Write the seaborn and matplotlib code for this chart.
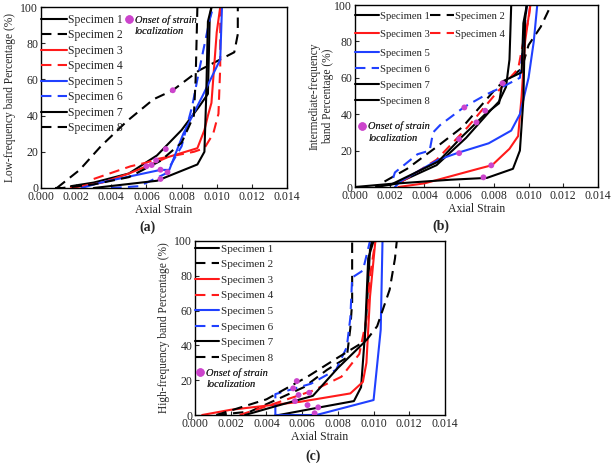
import matplotlib
matplotlib.use("Agg")
import matplotlib.pyplot as plt
import seaborn as sns
from matplotlib.lines import Line2D
from matplotlib.ticker import FormatStrFormatter

# ---- data ----
SPECIMENS = ["Specimen 1", "Specimen 2", "Specimen 3", "Specimen 4",
             "Specimen 5", "Specimen 6", "Specimen 7", "Specimen 8"]

# (a) low-frequency band
low_strain = {
    1: [0.0017, 0.0030, 0.0050, 0.0066, 0.0080, 0.0090, 0.0095, 0.0096, 0.0097],
    2: [0.0009, 0.0022, 0.0034, 0.0049, 0.0064, 0.0075, 0.0090, 0.0110, 0.0112, 0.0112],
    3: [0.0017, 0.0035, 0.0050, 0.0065, 0.0072, 0.0089, 0.0093, 0.0095, 0.0097, 0.0100, 0.0102],
    4: [0.0030, 0.0051, 0.0060, 0.0066, 0.0087, 0.0093, 0.0098, 0.0101, 0.0102, 0.0102],
    5: [0.0023, 0.0034, 0.0068, 0.0073, 0.0081, 0.0092, 0.0102, 0.0103],
    6: [0.0040, 0.0056, 0.0071, 0.0080, 0.0086, 0.0090, 0.0096, 0.0098],
    7: [0.0030, 0.0066, 0.0089, 0.0093, 0.0094, 0.0095, 0.0097],
    8: [0.0008, 0.0012, 0.0030, 0.0050, 0.0068, 0.0080, 0.0087, 0.0088, 0.0089],
}
low_pct = {
    1: [1, 3, 8, 18, 32, 45, 52, 93, 100],
    2: [0, 10, 23, 37, 49, 54, 65, 75, 85, 100],
    3: [0, 3, 8, 14, 17, 22, 32, 40, 47, 86, 100],
    4: [5, 12, 14, 16, 20, 22, 30, 41, 67, 100],
    5: [0, 3, 10, 10, 30, 51, 71, 100],
    6: [0, 1, 8, 23, 45, 65, 93, 100],
    7: [0, 4, 13, 20, 50, 92, 100],
    8: [0, 0, 2, 6, 15, 25, 40, 60, 100],
}
low_onset_strain = [0.0075, 0.0071, 0.00655, 0.0063, 0.0060, 0.0068, 0.0072, 0.0068]
low_onset_pct = [54, 21.5, 15.3, 12.7, 12, 10.1, 8.7, 5]

# (b) intermediate-frequency band
mid_strain = {
    1: [0.0000, 0.0024, 0.0047, 0.0064, 0.0078, 0.0083, 0.0087, 0.0089, 0.0090],
    2: [0.0017, 0.0030, 0.0047, 0.0062, 0.0082, 0.0096, 0.0100, 0.0107, 0.0113],
    3: [0.0025, 0.0040, 0.0071, 0.0079, 0.0089, 0.0094, 0.0096, 0.0098, 0.0101],
    4: [0.0027, 0.0047, 0.0065, 0.0080, 0.0094, 0.0097, 0.0100, 0.0101],
    5: [0.0023, 0.0026, 0.0048, 0.0060, 0.0077, 0.0090, 0.0095, 0.0100, 0.0103, 0.0105],
    6: [0.0022, 0.0023, 0.0036, 0.0043, 0.0045, 0.0049, 0.0063, 0.0076, 0.0085, 0.0095, 0.0097, 0.0099],
    7: [0.0012, 0.0025, 0.0055, 0.0076, 0.0091, 0.0095, 0.0097, 0.0098, 0.0099],
    8: [0.0020, 0.0048, 0.0062, 0.0075, 0.0083, 0.0085, 0.0096, 0.0097, 0.0099],
}
mid_pct = {
    1: [0, 2, 12, 27, 42, 47, 55, 70, 100],
    2: [3, 10, 22, 33, 55, 65, 78, 88, 100],
    3: [0, 2, 10, 12, 21, 28, 50, 80, 100],
    4: [3, 15, 33, 50, 65, 80, 92, 100],
    5: [0, 3, 15, 19, 24, 31, 40, 60, 80, 100],
    6: [5, 8, 18, 20, 30, 34, 44, 51, 55, 60, 80, 100],
    7: [0, 2, 4, 5, 10, 20, 48, 92, 100],
    8: [1, 14, 28, 40, 46, 58, 63, 90, 100],
}
mid_onset_strain = [0.0074, 0.00785, 0.0060, 0.0060, 0.0070, 0.0075, 0.0063, 0.0085]
mid_onset_pct = [5.3, 11.9, 18.6, 26.3, 35.5, 41.9, 43.7, 57]

# (c) high-frequency band
high_strain = {
    1: [0.0047, 0.0072, 0.0089, 0.0093, 0.0096, 0.0098, 0.0099],
    2: [0.0012, 0.0031, 0.0061, 0.0074, 0.0085, 0.0087, 0.0088, 0.0088],
    3: [0.0004, 0.0020, 0.0059, 0.0087, 0.0094, 0.0096, 0.0098, 0.0101],
    4: [0.0025, 0.0040, 0.0066, 0.0082, 0.0092, 0.0096, 0.0098, 0.0101],
    5: [0.0045, 0.0068, 0.0100, 0.0104, 0.0105],
    6: [0.0045, 0.0045, 0.0065, 0.0072, 0.0079, 0.0085, 0.0087, 0.0088, 0.0094, 0.0098],
    7: [0.0028, 0.0045, 0.0066, 0.0080, 0.0095, 0.0097, 0.0100],
    8: [0.0012, 0.0040, 0.0063, 0.0080, 0.0096, 0.0102, 0.0109, 0.0112, 0.0113],
}
high_pct = {
    1: [0, 4.8, 8, 16, 58, 95, 100],
    2: [0, 2, 16, 26, 33, 50, 65, 100],
    3: [0, 3, 7.6, 12.4, 19, 30, 68, 100],
    4: [0, 5, 14, 22, 35, 55, 80, 100],
    5: [0, 0, 8.6, 49, 100],
    6: [0, 12, 18, 22, 26, 39, 56, 79, 83, 100],
    7: [0, 5, 11, 27, 42, 90, 100],
    8: [0, 9, 22, 33, 43, 51, 72, 90, 100],
}
high_onset_strain = [0.0057, 0.0055, 0.0058, 0.0056, 0.0064, 0.0063, 0.0069, 0.0067]
high_onset_pct = [19.5, 15.3, 11.5, 8, 12.8, 5.7, 4.4, 1]

# ---- styling ----
sns.set_style("ticks")
plt.rcParams["font.family"] = ["Liberation Serif", "DejaVu Serif"]

BLACK, RED, BLUE = "#000000", "#ff1a1a", "#2040ff"
DOT = "#cc44cc"
DASH = (0, (5, 3))
colors_ac = [BLACK, BLACK, RED, RED, BLUE, BLUE, BLACK, BLACK]
dashed_ac = [False, True, False, True, False, True, False, True]
colors_b = [BLACK, BLACK, RED, RED, BLUE, BLUE, BLACK, BLACK]
dashed_b = [False, True, False, True, False, True, False, False]
FS = 8.5
LW = 1.5


def draw_panel(ax, strain, pct, colors, dashed, on_x, on_y, ylabel, ylabelpad=3):
    handles = []
    for i in range(8):
        ls = DASH if dashed[i] else "-"
        sns.lineplot(x=strain[i + 1], y=pct[i + 1], sort=False, estimator=None,
                     color=colors[i], linestyle=ls, linewidth=LW, ax=ax)
        handles.append(Line2D([], [], color=colors[i], linestyle=ls, linewidth=LW))
    sns.scatterplot(x=on_x, y=on_y, color=DOT, s=18, edgecolor="none", ax=ax, zorder=5)
    ax.set_xlim(0, 0.014)
    ax.set_ylim(0, 100)
    ax.set_xticks([0.000, 0.002, 0.004, 0.006, 0.008, 0.010, 0.012, 0.014])
    ax.set_yticks([0, 20, 40, 60, 80, 100])
    ax.xaxis.set_major_formatter(FormatStrFormatter("%.3f"))
    ax.tick_params(direction="in", length=3, width=0.8, labelsize=FS, pad=2)
    for s in ax.spines.values():
        s.set_linewidth(1.0)
        s.set_color("black")
    ax.set_xlabel("Axial Strain", fontsize=FS, labelpad=1)
    ax.set_ylabel(ylabel, fontsize=8.3, labelpad=ylabelpad)
    return handles


def onset_legend(ax, anchor):
    dot = Line2D([], [], marker="o", color=DOT, linestyle="none", markersize=5)
    blank = Line2D([], [], linestyle="none")
    leg = ax.legend([dot, blank], ["Onset of strain", "localization"], loc="upper left",
                    bbox_to_anchor=anchor, frameon=False, borderpad=0, borderaxespad=0,
                    handlelength=0.6, handletextpad=0.3, labelspacing=0.2,
                    prop={"style": "italic", "size": 7.5})
    ax.add_artist(leg)


fig = plt.figure(figsize=(6.14, 4.63), dpi=100)
ax_a = fig.add_axes([41 / 614, 1 - 188 / 463, 246 / 614, 181 / 463])
ax_b = fig.add_axes([355 / 614, 1 - 187 / 463, 243 / 614, 182 / 463])
ax_c = fig.add_axes([195 / 614, 1 - 415 / 463, 250 / 614, 174 / 463])

leg_kw = dict(frameon=False, borderpad=0, borderaxespad=0, handlelength=2.2,
              handletextpad=0.15, loc="upper left")

# (a)
h = draw_panel(ax_a, low_strain, low_pct, colors_ac, dashed_ac,
               low_onset_strain, low_onset_pct, "Low-frequency band Percentage (%)")
leg = ax_a.legend(h, SPECIMENS, bbox_to_anchor=(0, 0.962), fontsize=8.4,
                  labelspacing=0.30, **leg_kw)
ax_a.add_artist(leg)
onset_legend(ax_a, (0.343, 0.955))

# (b)
h = draw_panel(ax_b, mid_strain, mid_pct, colors_b, dashed_b,
               mid_onset_strain, mid_onset_pct, "Intermediate-frequency\nband Percentage (%)",
               ylabelpad=0)
order = [0, 2, 1, 3]
leg = ax_b.legend([h[i] for i in order], [SPECIMENS[i] for i in order], ncol=2,
                  columnspacing=0.0, bbox_to_anchor=(0, 0.965), fontsize=7.7,
                  labelspacing=0.80, **leg_kw)
ax_b.add_artist(leg)
leg = ax_b.legend(h[4:], SPECIMENS[4:], bbox_to_anchor=(0, 0.76), fontsize=7.7,
                  labelspacing=0.60, **leg_kw)
ax_b.add_artist(leg)
onset_legend(ax_b, (0.015, 0.36))

# (c)
h = draw_panel(ax_c, high_strain, high_pct, colors_ac, dashed_ac,
               high_onset_strain, high_onset_pct, "High-frequency band Percentage (%)")
leg = ax_c.legend(h, SPECIMENS, bbox_to_anchor=(0, 0.983), fontsize=8.0,
                  labelspacing=0.52, **leg_kw)
ax_c.add_artist(leg)
onset_legend(ax_c, (0.008, 0.27))

fig.text(147 / 614, 1 - 227 / 463, "(a)", ha="center", va="center", fontsize=10, fontweight="bold")
fig.text(441 / 614, 1 - 226 / 463, "(b)", ha="center", va="center", fontsize=10, fontweight="bold")
fig.text(313 / 614, 1 - 456 / 463, "(c)", ha="center", va="center", fontsize=10, fontweight="bold")

fig.savefig("out.png", dpi=100)
